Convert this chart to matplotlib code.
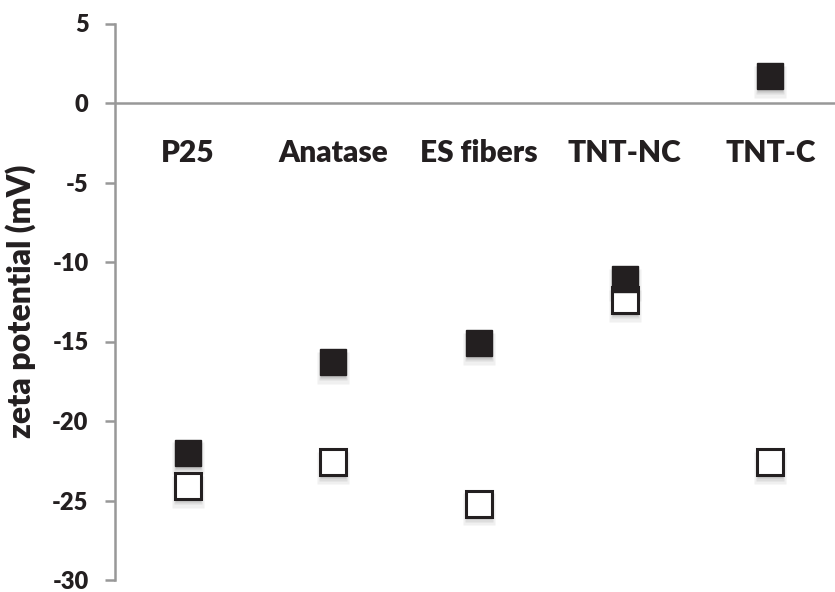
import matplotlib
matplotlib.use("Agg")
import matplotlib.pyplot as plt
import matplotlib.transforms as mtransforms

categories = ["P25", "Anatase", "ES fibers", "TNT-NC", "TNT-C"]
filled_values = [-22.0, -16.3, -15.1, -11.1, 1.7]
open_values = [-24.1, -22.6, -25.2, -12.4, -22.6]
yticks = [5, 0, -5, -10, -15, -20, -25, -30]

plt.rcParams['font.family'] = ['Lato', 'DejaVu Sans']

fig = plt.figure(figsize=(8.35, 5.92), dpi=100)
ax = fig.add_axes([115/835, 12/592, 728/835, 556.5/592])
ax.set_xlim(0.5, 5.5)
ax.set_ylim(-30, 5)

x = list(range(1, len(categories) + 1))
ms = 18.5

def shadow(vals):
    for dy, a, s in [(-4, 0.06, ms + 4), (-3, 0.08, ms + 2), (-2, 0.10, ms)]:
        tr = mtransforms.offset_copy(ax.transData, fig=fig, x=0, y=dy, units='points')
        ax.plot(x, vals, 's', ms=s, color='black', alpha=a, mec='none',
                transform=tr, zorder=2, clip_on=False)

shadow(filled_values)
shadow(open_values)
ax.plot(x, open_values, 's', ms=ms, mfc='white', mec='#231f20', mew=2.2, zorder=3, linestyle='none')
ax.plot(x, filled_values, 's', ms=ms, mfc='#231f20', mec='#231f20', mew=1, zorder=4, linestyle='none')

ax.axhline(0, color='#989898', lw=1.8, zorder=1)
for i, c in zip(x, categories):
    ax.text(i, -3.15, c, ha='center', va='center', fontsize=21.5, fontweight='heavy', color='#231f20')

for s in ['top', 'right', 'bottom']:
    ax.spines[s].set_visible(False)
ax.spines['left'].set_color('#989898')
ax.spines['left'].set_linewidth(1.8)
ax.set_xticks([])
ax.set_yticks(yticks)
ax.set_yticklabels([str(t) for t in yticks])
ax.tick_params(axis='y', direction='out', length=7, width=1.8, color='#989898',
               labelsize=17, pad=12, labelcolor='#231f20')
for lab in ax.get_yticklabels():
    lab.set_fontweight('heavy')
ax.set_ylabel('zeta potential (mV)', fontsize=23, fontweight='heavy', labelpad=12, color='#231f20')

fig.savefig('out.png', dpi=100)
